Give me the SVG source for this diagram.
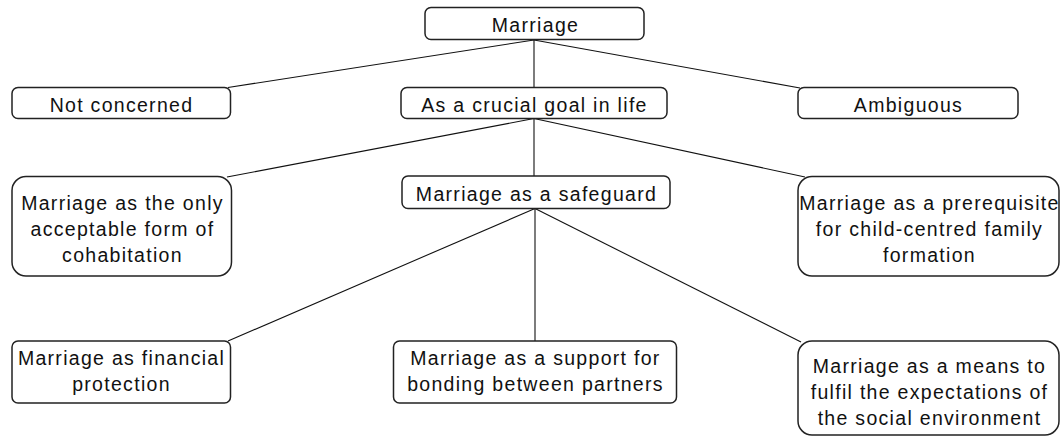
<svg xmlns="http://www.w3.org/2000/svg" width="1064" height="437" viewBox="0 0 1064 437">
<style>
.box{fill:#fff;stroke:#222;stroke-width:1.5}
.t{font-family:"Liberation Sans",Arial,sans-serif;font-size:19.5px;letter-spacing:1.3px;fill:#111;text-anchor:middle}
.c{stroke:#111;stroke-width:1.1;fill:none}
</style>
<rect width="1064" height="437" fill="#fff"/>
<g id="connectors">
<line class="c" x1="534" y1="40" x2="228" y2="87.5"/>
<line class="c" x1="534" y1="40" x2="534" y2="87.5"/>
<line class="c" x1="534" y1="40" x2="800" y2="88"/>
<line class="c" x1="534" y1="118.5" x2="227" y2="177"/>
<line class="c" x1="534" y1="118.5" x2="534" y2="176"/>
<line class="c" x1="534" y1="118.5" x2="805" y2="177"/>
<line class="c" x1="535" y1="208.5" x2="228" y2="341"/>
<line class="c" x1="535" y1="208.5" x2="535" y2="341"/>
<line class="c" x1="535" y1="208.5" x2="801" y2="342"/>
</g>
<g id="n-marriage">
<rect class="box" x="425" y="7.5" width="219" height="32" rx="6"/>
<text class="t" x="535.5" y="32">Marriage</text>
</g>
<g id="n-not-concerned">
<rect class="box" x="12" y="87.5" width="218.5" height="31" rx="6"/>
<text class="t" x="121.5" y="111.5">Not concerned</text>
</g>
<g id="n-crucial">
<rect class="box" x="401" y="87.5" width="266" height="31" rx="6"/>
<text class="t" x="534.5" y="111.5">As a crucial goal in life</text>
</g>
<g id="n-ambiguous">
<rect class="box" x="798" y="87.5" width="220" height="31" rx="6"/>
<text class="t" x="908.5" y="111.5">Ambiguous</text>
</g>
<g id="n-only-form">
<rect class="box" x="12" y="176.5" width="219.5" height="99.5" rx="14"/>
<text class="t" x="122.5" y="209.5">Marriage as the only</text>
<text class="t" x="122.5" y="235.5">acceptable form of</text>
<text class="t" x="122.5" y="261.5">cohabitation</text>
</g>
<g id="n-safeguard">
<rect class="box" x="402" y="176" width="268" height="32.5" rx="6"/>
<text class="t" x="536.5" y="200.5">Marriage as a safeguard</text>
</g>
<g id="n-prerequisite">
<rect class="box" x="798" y="176.5" width="261" height="99.5" rx="14"/>
<text class="t" x="929.5" y="209.5">Marriage as a prerequisite</text>
<text class="t" x="929.5" y="235.5">for child-centred family</text>
<text class="t" x="929.5" y="261.5">formation</text>
</g>
<g id="n-financial">
<rect class="box" x="12" y="341" width="218.5" height="62" rx="6"/>
<text class="t" x="121.5" y="364.5">Marriage as financial</text>
<text class="t" x="121.5" y="391">protection</text>
</g>
<g id="n-bonding">
<rect class="box" x="393.5" y="341" width="283" height="62" rx="6"/>
<text class="t" x="535.5" y="364.5">Marriage as a support for</text>
<text class="t" x="535.5" y="391">bonding between partners</text>
</g>
<g id="n-means">
<rect class="box" x="798" y="341" width="261" height="94" rx="14"/>
<text class="t" x="929.5" y="372.5">Marriage as a means to</text>
<text class="t" x="929.5" y="399">fulfil the expectations of</text>
<text class="t" x="929.5" y="425">the social environment</text>
</g>
</svg>
